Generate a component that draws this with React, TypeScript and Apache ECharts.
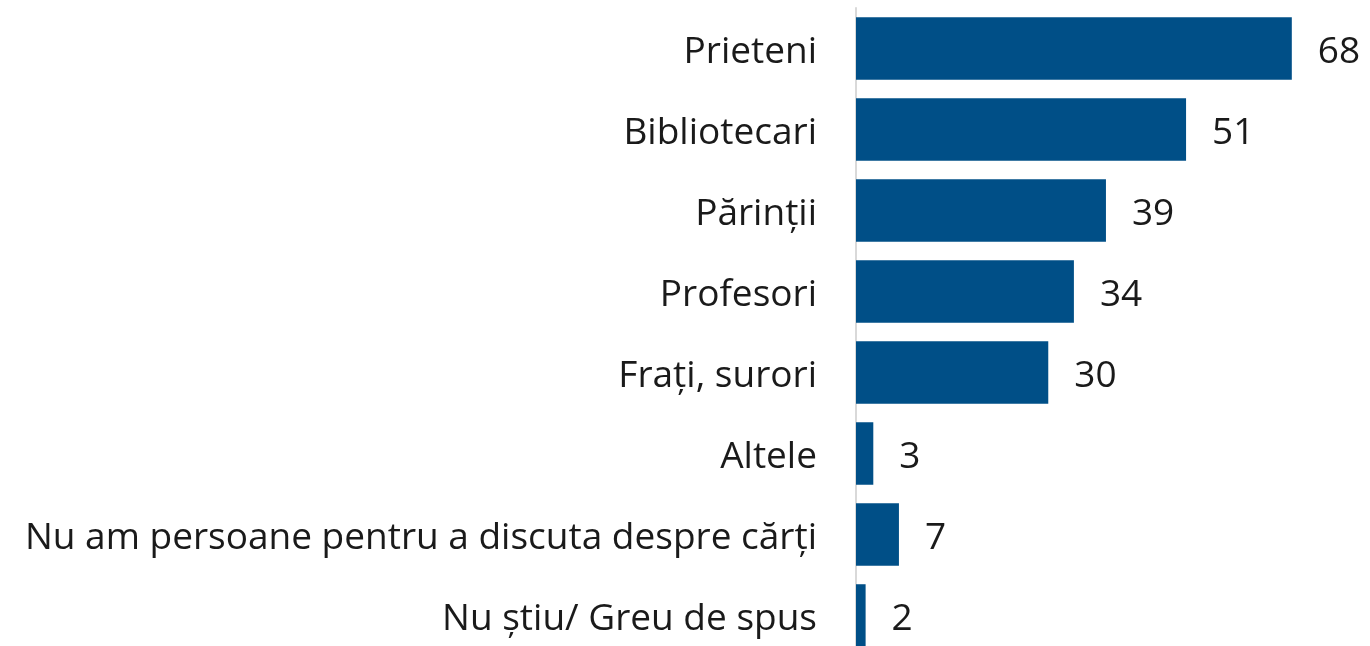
import React, { useEffect, useRef } from "react";
import * as echarts from "echarts";

const categories = [
  "Prieteni",
  "Bibliotecari",
  "Părinții",
  "Profesori",
  "Frați, surori",
  "Altele",
  "Nu am persoane pentru a discuta despre cărți",
  "Nu știu/ Greu de spus",
];
// bar lengths (unrounded)
const values = [68, 51.5, 39, 34, 30, 2.7, 6.7, 1.5];
// labels printed beside the bars
const valueLabels = ["68", "51", "39", "34", "30", "3", "7", "2"];

const FONT = "Open Sans";

export default function App() {
  const ref = useRef<HTMLDivElement>(null);
  useEffect(() => {
    if (!ref.current) return;
    const chart = echarts.init(ref.current, undefined, { renderer: "svg" });
    chart.setOption({
      animation: false,
      grid: { left: 856, top: 8, width: 514, height: 648, containLabel: false },
      xAxis: {
        type: "value",
        min: 0,
        max: 80.2,
        show: false,
      },
      yAxis: {
        type: "category",
        data: categories,
        inverse: true,
        axisLine: { show: true, lineStyle: { color: "#d9d9d9", width: 2 } },
        axisTick: { show: false },
        splitLine: { show: false },
        axisLabel: {
          margin: 39,
          color: "#1a1a1a",
          fontSize: 37,
          fontFamily: FONT,
        },
      },
      series: [
        {
          type: "bar",
          data: values,
          barCategoryGap: "22.8%",
          itemStyle: { color: "#004f87" },
          label: {
            show: true,
            position: "right",
            distance: 26,
            color: "#1a1a1a",
            fontSize: 37,
            fontFamily: FONT,
            formatter: (p: any) => valueLabels[p.dataIndex],
          },
        },
      ],
    });
    return () => chart.dispose();
  }, []);
  return (
    <div
      ref={ref}
      style={{ position: "fixed", left: 0, top: 0, width: 1370, height: 660 }}
    />
  );
}
